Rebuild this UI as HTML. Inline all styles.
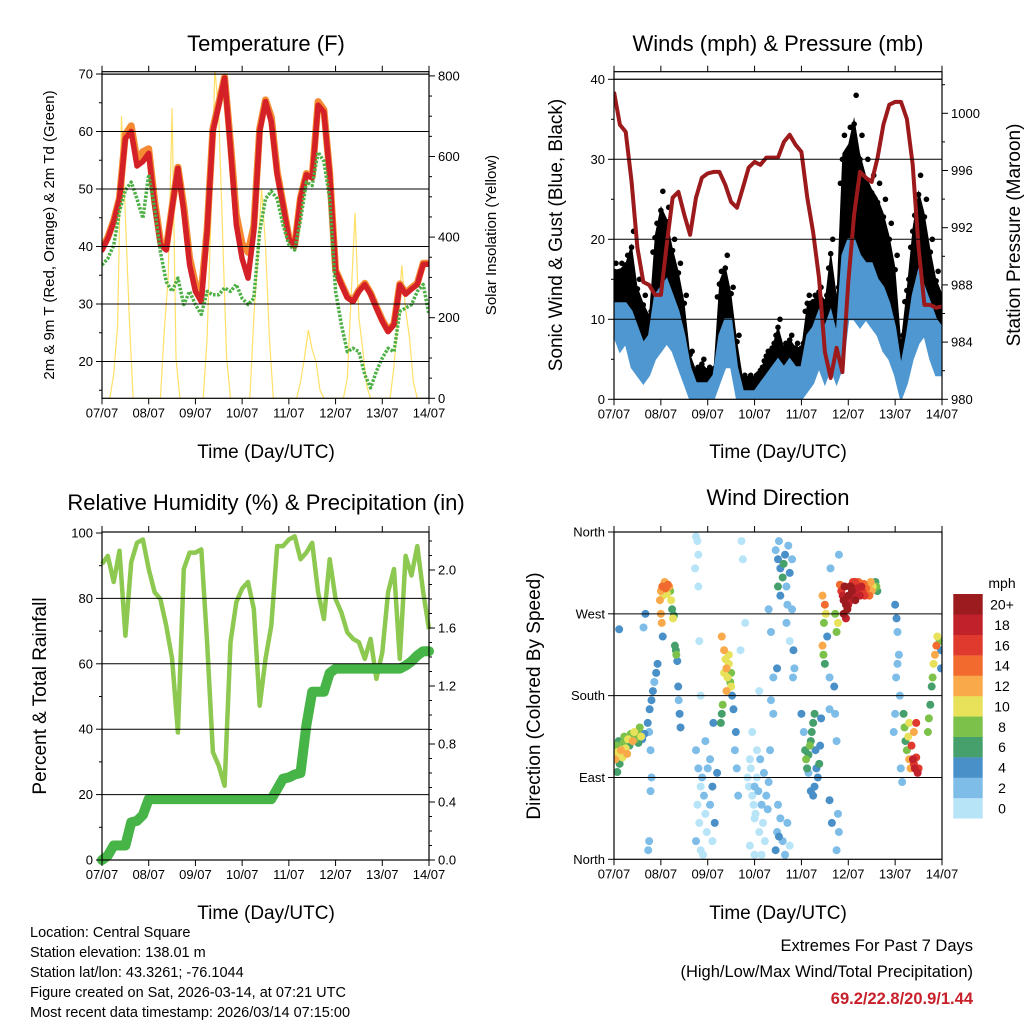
<!DOCTYPE html>
<html><head><meta charset="utf-8"><style>
html,body{margin:0;padding:0;background:#fff;}
svg{display:block;font-family:"Liberation Sans",Arial,sans-serif;}
</style></head>
<body>
<svg id="c" width="1024" height="1024" viewBox="0 0 1024 1024" xmlns="http://www.w3.org/2000/svg">
<defs>
<clipPath id="clip1"><rect x="102" y="71.7" width="327" height="326.6"/></clipPath>
<clipPath id="clip2"><rect x="614" y="71.7" width="328" height="327.6"/></clipPath>
<clipPath id="clip3"><rect x="92" y="522" width="347" height="348"/></clipPath>
<clipPath id="clip4"><rect x="614" y="532" width="328" height="327.3"/></clipPath>
</defs>
<rect width="1024" height="1024" fill="#fff"/>
<g id="layer"></g>
<g font-size="22" text-anchor="middle" fill="#000">
<text x="266" y="51">Temperature (F)</text>
<text x="778" y="51">Winds (mph) &amp; Pressure (mb)</text>
<text x="266" y="510">Relative Humidity (%) &amp; Precipitation (in)</text>
<text x="778" y="505">Wind Direction</text>
</g>
<g font-size="19" text-anchor="middle">
<text x="266" y="458">Time (Day/UTC)</text>
<text x="778" y="458">Time (Day/UTC)</text>
<text x="266" y="919">Time (Day/UTC)</text>
<text x="778" y="919">Time (Day/UTC)</text>
<text transform="translate(562,235) rotate(-90)">Sonic Wind &amp; Gust (Blue, Black)</text>
<text transform="translate(1020,235) rotate(-90)">Station Pressure (Maroon)</text>
<text transform="translate(46,696) rotate(-90)">Percent &amp; Total Rainfall</text>
<text transform="translate(540,696) rotate(-90)">Direction (Colored By Speed)</text>
</g>
<g font-size="15" text-anchor="middle">
<text transform="translate(54,235) rotate(-90)">2m &amp; 9m T (Red, Orange) &amp; 2m Td (Green)</text>
<text transform="translate(496,235) rotate(-90)">Solar Insolation (Yellow)</text>
</g>
<g font-size="14.5" fill="#000">
<text x="30" y="937">Location: Central Square</text>
<text x="30" y="957">Station elevation: 138.01 m</text>
<text x="30" y="977">Station lat/lon: 43.3261; -76.1044</text>
<text x="30" y="997">Figure created on Sat, 2026-03-14, at 07:21 UTC</text>
<text x="30" y="1017">Most recent data timestamp: 2026/03/14 07:15:00</text>
</g>
<g font-size="16.5" text-anchor="end">
<text x="973" y="951">Extremes For Past 7 Days</text>
<text x="973" y="977">(High/Low/Max Wind/Total Precipitation)</text>
<text x="973" y="1004" fill="#c8202a" font-weight="bold">69.2/22.8/20.9/1.44</text>
</g>
<text x="1002" y="588" font-size="14" text-anchor="middle">mph</text>
</svg>
<script>
// ---------- DATA (3-hourly unless noted) ----------
const dayLabels = ["07/07","08/07","09/07","10/07","11/07","12/07","13/07","14/07"];
const tempRed = [39.4,41.4,44.3,48.3,58.8,60,54,54.8, 56.2,47.2,40.3,39.4,46.7,53.6,46.1,36.8, 32.2,30.4,42.6,60,64.6,69.3,57.1,43.8, 37.9,34.5,42.6,60,65.2,61.7,52.5,47.2, 41.4,40,48.3,52.5,51.9,64.6,63.4,52.5, 35.7,33.4,31.1,30.4,32.2,33.4,31.7,29.3, 27,25.2,26.4,33.3,31.7,32.6,33.4,36.9,36.9];
const tempOrange = [39.6,41.6,44.5,48.5,59.5,61,55,56.5, 57,48,41,39.6,46.9,53.8,47,38, 33.5,32,43,60.5,65,69.5,58,45.5, 40.5,39,43.5,60.5,65.5,62.5,53,47.5, 41.6,40.2,48.5,52.7,52.2,65.2,63.8,52.7, 35.9,33.6,31.3,30.6,32.4,33.6,31.9,29.5, 27.2,25.4,26.6,33.5,31.9,32.8,33.6,37.1,37.1];
const tempDew = [36.8,37.9,40.2,46.1,49.8,51.2,48.3,44.9, 52.5,46.7,39.1,33.9,32.2,34.5,29.9,32.2, 29.9,28.2,32.2,31.6,31.6,32.8,32.2,33.4, 31,29.9,31,42.6,48.3,49.6,48.3,43.8, 40.3,39.4,44.6,51.2,50.6,56.4,54.8,48.3, 32.2,26.4,21.7,22.3,21.7,17.7,15.4,18.3, 20.6,22.3,21.7,28.7,29.3,29.9,32.2,33.4,28.2];
// solar insolation, 2-hourly
const solar = [0,0,0,60,180,700,450,200,0,0,0,0, 0,0,0,0,170,300,720,100,0,0,0,0, 0,0,0,150,450,820,700,400,100,0,0,0, 0,0,0,200,350,520,380,150,0,0,0,0, 0,0,0,40,100,170,120,90,20,0,0,0, 0,0,0,50,250,460,200,120,30,0,0,0, 0,0,0,80,200,330,220,150,40,0,0,0, 0];
const pressure = [1001.5,999.2,998.7,995.2,990.6,988.2,988,987.3, 987.3,990.8,994.1,994.5,992.9,991.5,994.1,995.5, 995.8,995.9,995.9,995,993.8,993.4,994.8,996.2, 996.6,996.4,996.9,996.9,996.9,998,998.5,997.8, 997.3,994.1,991.7,988.5,983.3,981.5,983.6,981.9, 988.2,992.9,995.9,995.5,995.2,996.9,999.2,1000.6, 1000.8,1000.8,999.6,996.4,990.6,986.6,986.6,986.4,986.5];
const windLow = [8,6,7,4,3,2,3,5, 6,7,6,4,2,0,0,0, 0,0,2,4,4,0,0,0, 0,0,0,0,0,0,0,0, 0,1,2,4,2,4,2,4, 10,10,9,10,9,8,6,5, 3,0,2,5,7,8,5,3,3];
const windHigh = [12,12,12,11,9,7,8,13, 14,15,13,11,8,4,2,2, 2,3,8,10,10,4,1,1, 1,2,3,4,5,4,5,4, 4,8,9,11,9,11,8,18, 20,20,18,17,17,15,14,12, 9,4,8,13,16,14,12,10,9];
const gustHigh = [17,17,18,21,15,13,11,22, 26,24,20,17,13,6,4,5, 4,4,16,18,14,8,3,3, 3,4,6,7,10,7,8,7, 7,13,13,14,13,20,14,33, 34,38,33,30,28,27,25,22, 18,8,15,23,28,25,20,16,14];
const rh = [90.5,93,85,94.6,68.6,91,97,98, 89,81.9,79.8,71.7,61.5,39,89,94, 94,95,66.6,33,28.8,22.7,66.6,78.8, 83,85,76.8,47.2,61.5,71.7,96,96, 98,99,92,94,97,81.9,73.7,92, 79.8,75.7,69.6,67.6,66.6,61.5,67.6,55.4, 63.5,81.9,89,61.5,93,87,96,81.9,70.6];
const rain = [0,0.03,0.1,0.1,0.1,0.26,0.27,0.31, 0.42,0.42,0.42,0.42,0.42,0.42,0.42,0.42, 0.42,0.42,0.42,0.42,0.42,0.42,0.42,0.42, 0.42,0.42,0.42,0.42,0.42,0.42,0.49,0.56, 0.57,0.59,0.6,0.93,1.16,1.16,1.16,1.29, 1.32,1.32,1.32,1.32,1.32,1.32,1.32,1.32, 1.32,1.32,1.32,1.32,1.34,1.37,1.41,1.44,1.44];
// wind direction observations (day, degrees, mph)
const dirDay = [0,0.03,0.05,0.08,0.1,0.12,0.15,0.18,0.2,0.22,0.25,0.28,0.3,0.33,0.36,0.4,0.43,0.45,0.5,0.52,0.55,0.58,0.6,0.65,0.07,0.11,
0.72,0.76,0.8,0.83,0.86,0.9,0.93,0.75,0.78,0.8,0.78,0.75,0.73,0.63,0.67,
0.98,1,1.03,1.05,1.08,1.1,1.13,1.15,1.18,1.2,1.22,1.24,1.26,1.28,1,1.02,1.04,1.3,1.32,1.33,1.35,1.37,1.4,1.42,1.38,
1.75,1.78,1.8,1.73,1.8,1.82,1.85,1.75,1.8,1.85,1.78,1.82,1.75,1.85,1.9,1.88,1.92,1.95,1.95,1.98,2,2.05,2.05,2.1,2.12,2.15,2.1,2.2,
2.3,2.35,2.38,2.4,2.42,2.45,2.48,2.5,2.4,2.45,2.35,2.32,2.3,2.28,2.5,2.52,2.55,2.6,2.58,2.62,2.65,
2.7,2.72,2.75,2.8,2.85,2.88,2.9,2.92,2.95,2.98,3,3.02,3.05,3.08,3.1,3.12,3.15,3.18,3.2,3.22,3.25,2.9,3,3.05,3.15,3.1,3,2.95,3.28,3.3,3.35,3.33,3.4,
3.45,3.48,3.5,3.52,3.55,3.6,3.65,3.7,3.75,3.45,3.5,3.52,3.55,3.6,3.62,3.65,3.68,3.7,3.75,3.72,3.8,3.68,3.8,3.83,3.85,3.75,3.82,3.3,3.35,3.4,3.5,3.55,3.48,
4,4.05,4.08,4.1,4.12,4.15,4.18,4.2,4.22,4.25,4.28,4.3,4.32,4.35,4.38,4.28,4.25,4.4,4.42,4.15,4.2,
4.45,4.5,4.52,4.48,4.45,4.47,4.5,4.55,4.6,4.6,4.6,4.65,4.62,4.7,4.72,4.75,4.78,4.8,4.75,4.8,
4.82,4.85,4.88,4.9,4.92,4.95,4.98,5,5.03,5.05,5.08,5.1,5.12,5.15,5.18,5.2,5.22,5.25,5.28,5.3,5.33,5.35,5.38,5.4,5.43,5.45,5.48,5.5,5.52,5.55,5.58,5.6,5.62,4.9,5,4.95,5.05,5.15,4.78,4.75,4.72,
5.97,6,6.02,6.05,6.08,6.1,6.12,6.15,6.03,6,6.05,
6.18,6.2,6.22,6.25,6.28,6.3,6.33,6.35,6.38,6.4,6.42,6.45,6.48,6.5,6.45,6.4,6.3,
6.72,6.75,6.78,6.8,6.82,6.85,6.88,6.9,6.95,6.98,6.98,6.7];
const dirDeg = [115,110,125,118,130,105,120,112,128,135,122,116,132,125,138,130,140,132,140,128,145,135,132,138,96,253,
150,165,175,185,195,205,215,140,120,90,75,20,10,255,270,
285,295,300,290,305,298,292,302,300,295,285,275,265,268,270,260,245,235,230,225,218,190,160,145,175,
355,350,335,320,300,240,180,120,100,80,60,40,20,10,5,90,70,130,50,30,100,110,60,80,150,40,20,95,
245,230,220,210,200,215,195,190,185,225,205,170,160,150,205,180,165,140,120,100,70,
230,350,330,260,90,80,110,100,70,60,80,50,90,75,30,110,60,40,95,20,70,15,5,120,5,185,45,140,55,85,175,120,160,
10,30,60,25,45,20,5,40,15,340,330,350,320,310,325,335,300,280,315,345,330,260,275,230,210,240,200,275,250,200,300,290,210,
160,140,120,110,100,115,125,130,140,150,160,120,100,90,105,80,70,125,155,95,75,
290,280,270,260,235,225,215,245,200,165,65,40,320,190,160,130,50,30,10,335,
302,295,290,285,300,280,275,290,300,285,295,305,290,285,298,292,305,290,300,295,303,290,298,295,300,290,305,295,300,298,305,300,295,270,280,265,300,305,260,250,270,
140,160,200,215,225,180,100,85,265,280,250,
160,145,130,120,135,110,100,125,110,105,100,112,95,100,150,140,150,
155,170,190,200,215,225,235,245,240,230,210,140];
const dirSpeed = [11,12,8,10,6,7,12,11,9,8,10,12,11,7,9,12,10,8,9,7,8,10,5,4,6,4,
4,4,4,4,3,4,4,3,2,2,2,2,3,3,4,
12,13,14,11,12,15,10,14,12,9,11,7,10,6,12,13,4,7,6,9,5,4,4,4,3,
1,1,1,0,1,1,1,2,2,1,1,1,2,1,0,2,3,3,1,0,3,2,2,4,4,4,1,4,
12,13,10,12,11,10,9,10,12,11,10,8,7,6,8,5,4,4,3,3,3,
1,1,1,1,1,0,1,1,1,1,2,0,1,2,1,2,2,1,2,1,2,0,1,1,0,1,1,0,3,3,3,2,2,
4,3,2,4,2,2,2,2,1,2,4,2,5,6,6,4,3,3,4,2,2,2,2,4,2,1,2,2,2,3,6,5,4,
4,3,6,8,6,7,8,6,7,6,6,5,5,4,7,4,4,5,4,3,4,
12,14,10,8,12,8,6,5,3,3,4,4,2,4,3,3,3,2,2,2,
14,16,18,20,21,22,20,21,20,18,20,17,19,21,18,16,14,18,19,17,15,16,14,13,12,15,13,12,10,8,7,8,6,22,19,18,23,16,10,9,8,
3,3,3,3,2,2,2,2,4,4,3,
7,8,6,9,10,12,13,16,18,17,19,16,18,17,16,12,11,
8,6,7,9,10,12,14,11,8,5,4,9];
const speedBins = ["0","2","4","6","8","10","12","14","16","18","20+"];
const speedColors = ["#b8e4f8","#7dbde8","#4a90c8","#45a06c","#7cc24a","#e8e15a","#f9a94a","#f26a2e","#e03a2e","#c1212a","#9b1b1e"];

// ---------- helpers ----------
const NS = "http://www.w3.org/2000/svg";
const layer = document.getElementById("layer");
function mk(tag, attrs, parent) {
  const e = document.createElementNS(NS, tag);
  for (const k in attrs) e.setAttribute(k, attrs[k]);
  (parent || layer).appendChild(e);
  return e;
}
function txt(x, y, s, anchor, size, parent) {
  const t = mk("text", {x: x, y: y, "text-anchor": anchor, "font-size": size}, parent);
  t.textContent = s;
  return t;
}
function poly(pts) { return pts.map(p => p[0].toFixed(1) + "," + p[1].toFixed(1)).join(" "); }

const P1 = {l:102, r:429, t:71.7, b:398.3};
const P2 = {l:614, r:942, t:71.7, b:399.3};
const P3 = {l:102, r:429, t:532, b:860};
const P4 = {l:614, r:942, t:532, b:859.3};
const xL = d => P1.l + d * (P1.r - P1.l) / 7;
const xR = d => P2.l + d * (P2.r - P2.l) / 7;
const yTemp = v => P1.b - (v - 13.6) * 5.75;
const ySolar = v => P1.b - v * 0.403;
const ySpd = v => P2.b - v * 8;
const yPres = v => P2.b - (v - 980) * 14.3;
const yRH = v => P3.b - v * 3.27;
const yRain = v => P3.b - v * 145;
const yDir = v => P4.b - v * (P4.b - P4.t) / 360;

const g1 = mk("g", {"clip-path": "url(#clip1)"});
const g2 = mk("g", {"clip-path": "url(#clip2)"});
const g3 = mk("g", {"clip-path": "url(#clip3)"});
const g4 = mk("g", {"clip-path": "url(#clip4)"});

function xAxis(P, xf, name) {
  const g = mk("g", {});
  
  
  dayLabels.forEach((lab, i) => {
    const x = xf(i);
    mk("line", {x1:x, x2:x, y1:P.b, y2:P.b+6, stroke:"#000", "stroke-width":1}, g);
    mk("line", {x1:x, x2:x, y1:P.t, y2:P.t-6, stroke:"#000", "stroke-width":1}, g);
    const t = txt(x, P.b + 19, lab, "middle", 13, g);
    
    
  });
}
function frame(P, name) {
  const r = mk("rect", {x:P.l, y:P.t, width:P.r-P.l, height:P.b-P.t, fill:"none", stroke:"#000", "stroke-width":1.2});
  
  
}
function yTicks(vals, labels, yf, x, side, name, minor) {
  const g = mk("g", {});
  
  
  vals.forEach((v, i) => {
    const y = yf(v);
    const dx = side === "left" ? -6 : 6;
    mk("line", {x1:x, x2:x+dx, y1:y, y2:y, stroke:"#000", "stroke-width":1}, g);
    const t = txt(side === "left" ? x - 9 : x + 9, y + 4.5, labels[i], side === "left" ? "end" : "start", 13, g);
    
    
  });
  (minor || []).forEach(v => {
    const y = yf(v);
    mk("line", {x1:x, x2:x+(side === "left" ? -3 : 3), y1:y, y2:y, stroke:"#000", "stroke-width":1}, g);
  });
}
function grid(P, vals, yf) {
  vals.forEach(v => {
    const y = yf(v);
    const l = mk("line", {x1:P.l, x2:P.r, y1:y, y2:y, stroke:"#000", "stroke-width":1});
    
    
  });
}

// ---------- Panel 1: Temperature ----------
grid(P1, [20,30,40,50,60,70], yTemp);
const solarLine = mk("polyline", {points: poly(solar.map((v, i) => [xL(i / 12), ySolar(v)])), fill:"none", stroke:"#ffe066", "stroke-width":1.2}, g1);


const orangeLine = mk("polyline", {points: poly(tempOrange.map((v, i) => [xL(i / 8), yTemp(v)])), fill:"none", stroke:"#f58a33", "stroke-width":7, "stroke-linejoin":"round", "stroke-linecap":"round"}, g1);


const redLine = mk("polyline", {points: poly(tempRed.map((v, i) => [xL(i / 8), yTemp(v)])), fill:"none", stroke:"#d42027", "stroke-width":5.5, "stroke-linejoin":"round", "stroke-linecap":"round"}, g1);


const dewLine = mk("polyline", {points: poly(tempDew.map((v, i) => [xL(i / 8), yTemp(v)])), fill:"none", stroke:"#4cb044", "stroke-width":3.5, "stroke-dasharray":"2.5 1.5", "stroke-linejoin":"round"}, g1);


mk("line", {x1:P1.l, x2:P1.r, y1:74.3, y2:74.3, stroke:"#000", "stroke-width":1});
frame(P1, "temperature-plot-frame");
xAxis(P1, xL, "temp-x-axis");
yTicks([20,30,40,50,60,70], ["20","30","40","50","60","70"], yTemp, P1.l, "left", "temp-y-axis", [15,25,35,45,55,65]);
yTicks([0,200,400,600,800], ["0","200","400","600","800"], ySolar, P1.r, "right", "solar-y-axis", [50,100,150,250,300,350,450,500,550,650,700,750]);

// ---------- Panel 2: Winds & Pressure ----------
grid(P2, [10,20,30,40], ySpd);
const gustBand = windLow.map((v, i) => [xR(i / 8), ySpd(v)]).concat(gustHigh.map((v, i) => [xR(i / 8), ySpd(v * 0.85 + windHigh[i] * 0.15)]).reverse());
const gb = mk("polygon", {points: poly(gustBand), fill:"#000"}, g2);


gustHigh.forEach((v, i) => {
  [1, 0.8, 0.6].forEach(f => {
    const val = windHigh[i] + (v - windHigh[i]) * f;
    const c = mk("circle", {cx: xR(i / 8) + (f - 0.8) * 10, cy: ySpd(val), r: 2.8, fill:"#000"}, g2);
    
    
  });
});
const spdBand = windLow.map((v, i) => [xR(i / 8), ySpd(v)]).concat(windHigh.map((v, i) => [xR(i / 8), ySpd(v)]).reverse());
const sb = mk("polygon", {points: poly(spdBand), fill:"#4f97d0", stroke:"#4f97d0", "stroke-width":2}, g2);


const presLine = mk("polyline", {points: poly(pressure.map((v, i) => [xR(i / 8), yPres(v)])), fill:"none", stroke:"#9c1a1c", "stroke-width":4, "stroke-linejoin":"round"}, g2);


mk("line", {x1:P2.l, x2:P2.r, y1:79.3, y2:79.3, stroke:"#000", "stroke-width":1});
frame(P2, "winds-plot-frame");
xAxis(P2, xR, "wind-x-axis");
yTicks([0,10,20,30,40], ["0","10","20","30","40"], ySpd, P2.l, "left", "wind-y-axis", [5,15,25,35]);
yTicks([980,984,988,992,996,1000], ["980","984","988","992","996","1000"], yPres, P2.r, "right", "pressure-y-axis", [982,986,990,994,998,1002]);

// ---------- Panel 3: RH & Precip ----------
grid(P3, [20,40,60,80], yRH);
const rhLine = mk("polyline", {points: poly(rh.map((v, i) => [xL(i / 8), yRH(v)])), fill:"none", stroke:"#8dc850", "stroke-width":4.5, "stroke-linejoin":"round"}, g3);


const rainLine = mk("polyline", {points: poly(rain.map((v, i) => [xL(i / 8), yRain(v)])), fill:"none", stroke:"#46b446", "stroke-width":10, "stroke-linejoin":"round", "stroke-linecap":"round"}, g3);


frame(P3, "rh-plot-frame");
xAxis(P3, xL, "rh-x-axis");
yTicks([0,20,40,60,80,100], ["0","20","40","60","80","100"], yRH, P3.l, "left", "rh-y-axis", [10,30,50,70,90]);
yTicks([0,0.4,0.8,1.2,1.6,2.0], ["0.0","0.4","0.8","1.2","1.6","2.0"], yRain, P3.r, "right", "rain-y-axis", [0.1,0.2,0.3,0.5,0.6,0.7,0.9,1.0,1.1,1.3,1.4,1.5,1.7,1.8,1.9,2.1,2.2]);

// ---------- Panel 4: Wind direction ----------
grid(P4, [90,180,270], yDir);
const dirOrder = dirSpeed.map((s, i) => i).sort((a, b) => dirSpeed[a] - dirSpeed[b]);
dirOrder.forEach(i => {
  const bin = Math.min(10, Math.floor(dirSpeed[i] / 2));
  const c = mk("circle", {cx: xR(dirDay[i]), cy: yDir(dirDeg[i]), r: 4, fill: speedColors[bin]}, g4);
  
  
});
frame(P4, "direction-plot-frame");
xAxis(P4, xR, "dir-x-axis");
yTicks([0,90,180,270,360], ["North","East","South","West","North"], yDir, P4.l, "left", "direction-y-axis", []);
speedBins.forEach((lab, i) => {
  const y = 818.3 - (i + 1) * 20.39;
  const r = mk("rect", {x:953.3, y:y, width:29.4, height:20.6, fill: speedColors[i]});
  
  
  const t = txt(1002, y + 15.5, lab, "middle", 14);
  
  
});
</script>
</body></html>
